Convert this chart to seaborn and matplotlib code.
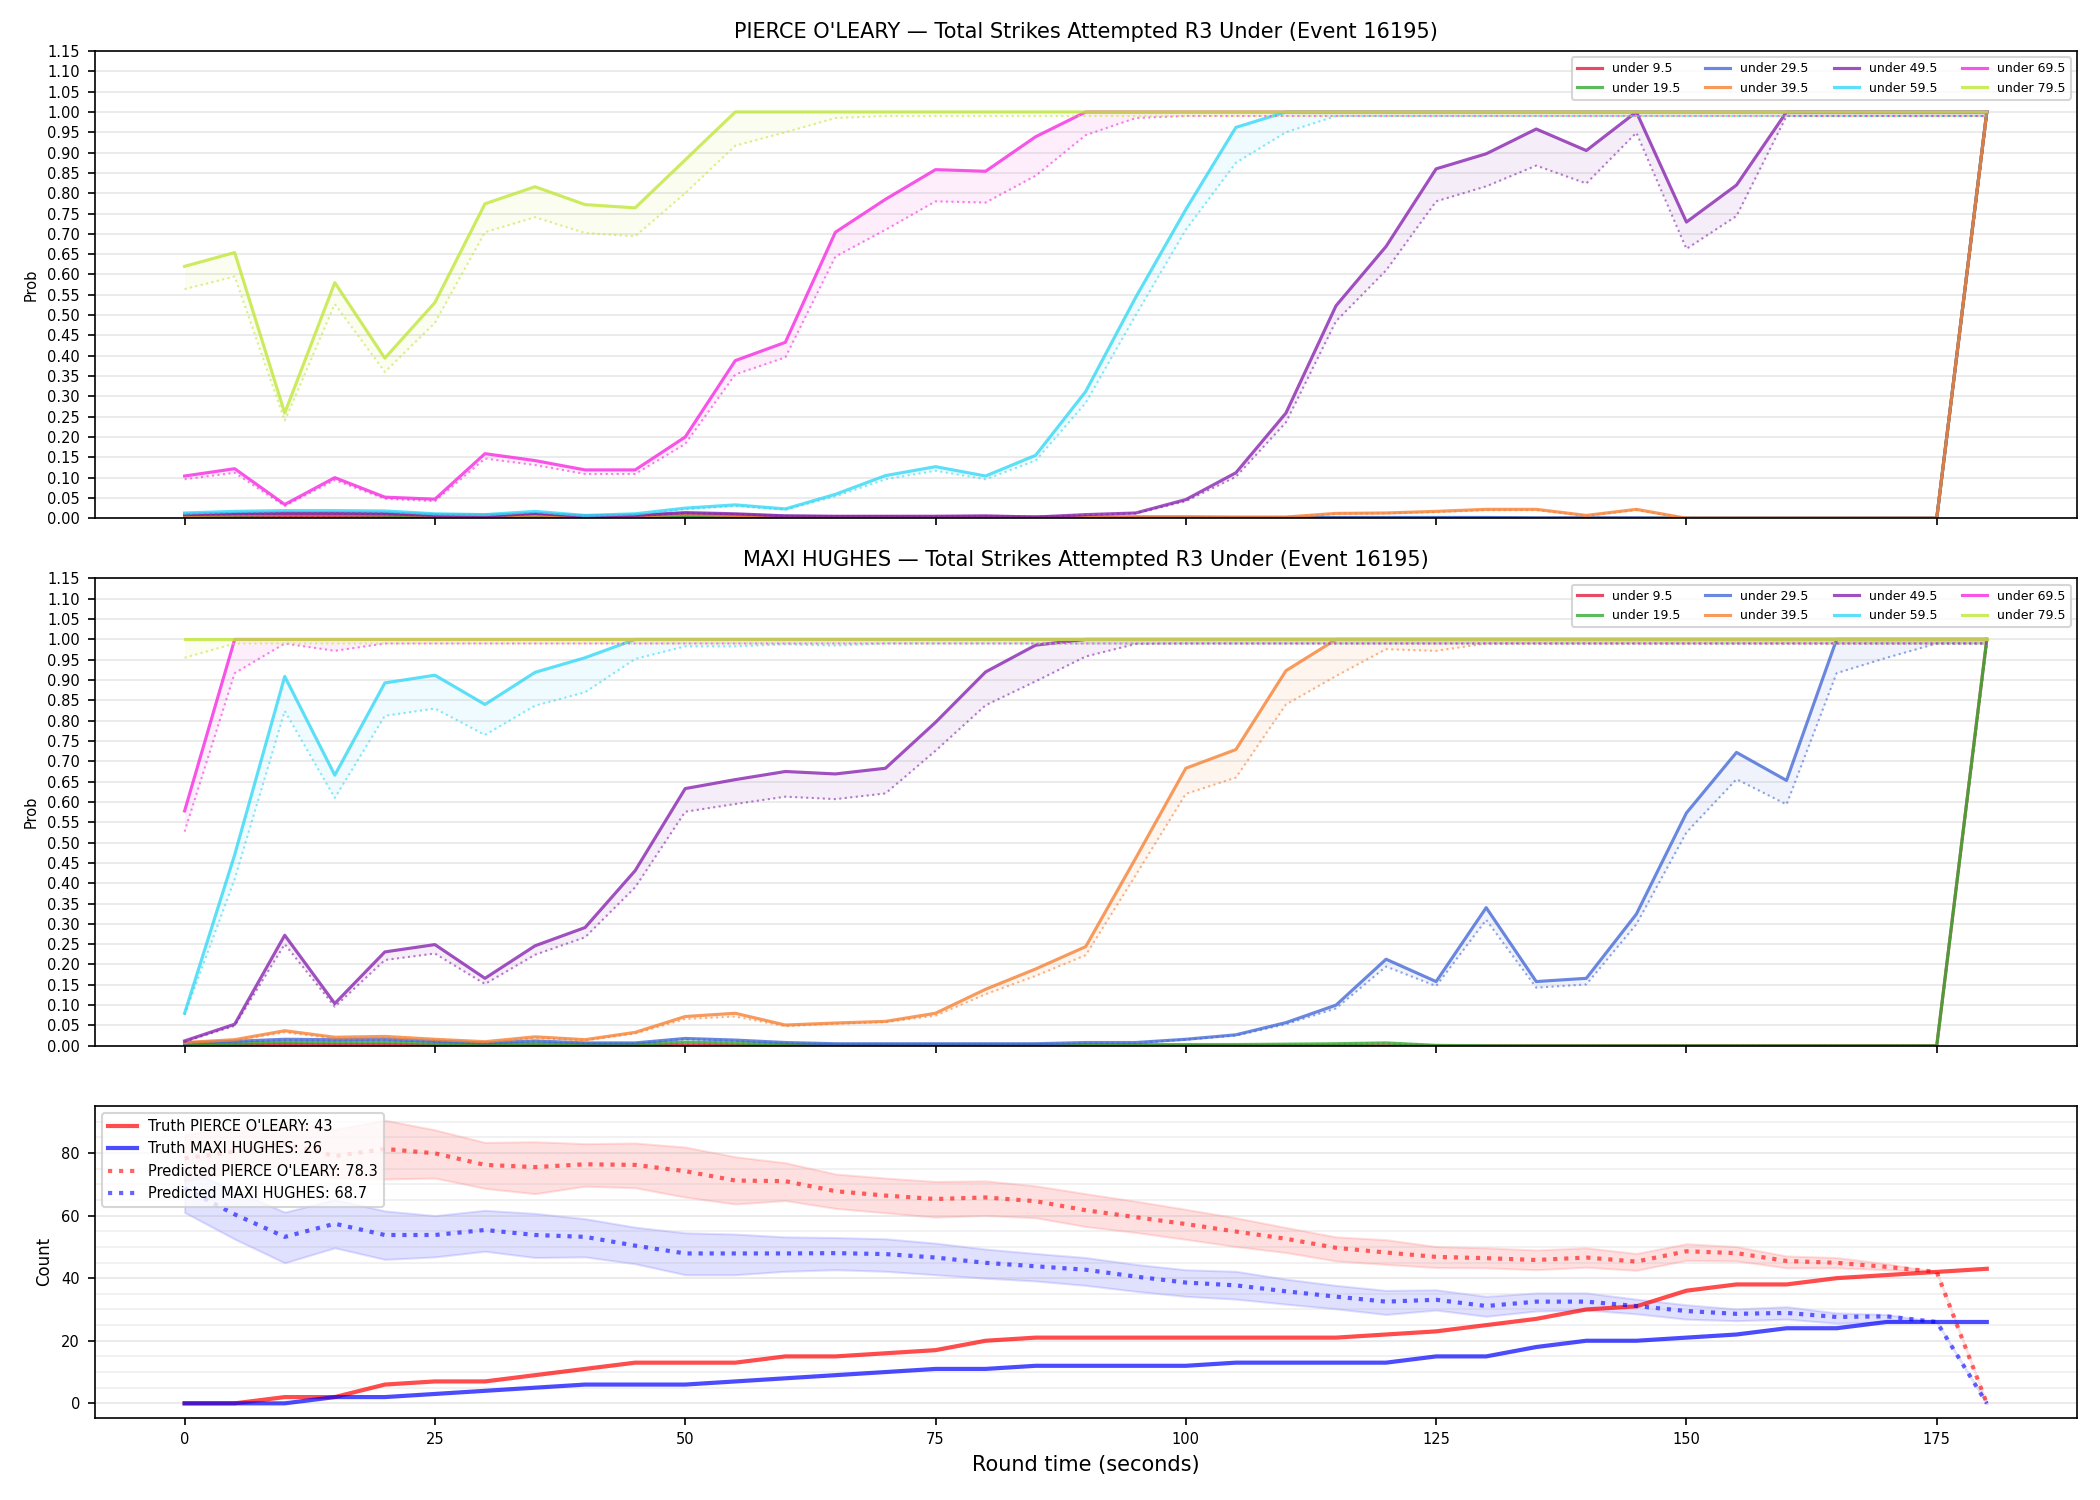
import matplotlib
matplotlib.use('Agg')
import matplotlib.pyplot as plt
from matplotlib.ticker import MultipleLocator
import seaborn as sns
import numpy as np

# ------------------------------------------------------- #
#                          DATOS                          #
# ------------------------------------------------------- #
times = [0, 5, 10, 15, 20, 25, 30, 35, 40, 45, 50, 55, 60, 65, 70, 75, 80, 85,
         90, 95, 100, 105, 110, 115, 120, 125, 130, 135, 140, 145, 150, 155,
         160, 165, 170, 175, 180]

lines = ['under 9.5', 'under 19.5', 'under 29.5', 'under 39.5',
         'under 49.5', 'under 59.5', 'under 69.5', 'under 79.5']
colors = ['#e21d3d', '#33ac33', '#456ad8', '#f78133',
          '#8824b0', '#33d8f6', '#f62ae2', '#c0e738']

fighter_a = "PIERCE O'LEARY"
fighter_b = "MAXI HUGHES"
title_tpl = "{} — Total Strikes Attempted R3 Under (Event 16195)"

#             PIERCE O'LEARY: prob real (truth)           #
pierce_truth = [
    [0.004, 0.005, 0.006, 0.006, 0.005, 0.004, 0.003, 0.004, 0.003, 0.003, 0.004, 0.003, 0.002,
     0.002, 0.002, 0.001, 0.001, 0.001, 0.001, 0.001, 0.001] + [0.0] * 15 + [1.0],
    [0.006, 0.008, 0.009, 0.009, 0.008, 0.006, 0.005, 0.006, 0.004, 0.005, 0.006, 0.005, 0.003,
     0.002, 0.002, 0.002, 0.002, 0.001, 0.001, 0.001, 0.001, 0.001, 0.001, 0.001, 0.001, 0.001,
     0.001] + [0.0] * 9 + [1.0],
    [0.010, 0.012, 0.014, 0.014, 0.013, 0.009, 0.008, 0.011, 0.006, 0.008, 0.011, 0.009, 0.005,
     0.004, 0.004, 0.003, 0.003, 0.003, 0.003, 0.003, 0.003, 0.002, 0.002, 0.002, 0.002, 0.002,
     0.002, 0.001, 0.001, 0.001] + [0.0] * 6 + [1.0],
    [0.007, 0.009, 0.011, 0.011, 0.010, 0.007, 0.006, 0.008, 0.005, 0.006, 0.010, 0.007, 0.004,
     0.003, 0.003, 0.003, 0.003, 0.003, 0.003, 0.003, 0.003, 0.003, 0.003, 0.012, 0.013, 0.017,
     0.022, 0.022, 0.007, 0.022] + [0.0] * 6 + [1.0],
    [0.009, 0.011, 0.012, 0.012, 0.011, 0.007, 0.005, 0.012, 0.005, 0.007, 0.014, 0.011, 0.006,
     0.005, 0.005, 0.005, 0.006, 0.003, 0.009, 0.013, 0.046, 0.112, 0.259, 0.523, 0.669, 0.860,
     0.897, 0.958, 0.905, 1.0, 0.729, 0.820] + [1.0] * 5,
    [0.013, 0.017, 0.019, 0.019, 0.018, 0.011, 0.009, 0.017, 0.007, 0.011, 0.025, 0.033, 0.023,
     0.059, 0.105, 0.127, 0.104, 0.155, 0.312, 0.544, 0.760, 0.962] + [1.0] * 15,
    [0.104, 0.122, 0.034, 0.100, 0.052, 0.047, 0.159, 0.142, 0.119, 0.119, 0.200, 0.388, 0.433,
     0.704, 0.785, 0.858, 0.854, 0.939] + [1.0] * 19,
    [0.620, 0.654, 0.259, 0.580, 0.394, 0.531, 0.774, 0.816, 0.772, 0.764, 0.882] + [1.0] * 26,
]

#            PIERCE O'LEARY: prob predicha               #
pierce_pred = [
    [0.003, 0.004, 0.005, 0.005, 0.004, 0.003, 0.002, 0.003, 0.002, 0.002, 0.003, 0.002, 0.001,
     0.001, 0.001, 0.001, 0.001, 0.001, 0.001, 0.001, 0.001] + [0.0] * 15 + [0.99],
    [0.005, 0.007, 0.008, 0.008, 0.007, 0.005, 0.004, 0.005, 0.003, 0.004, 0.005, 0.004, 0.002,
     0.002, 0.002, 0.002, 0.002, 0.001, 0.001, 0.001, 0.001, 0.001, 0.001, 0.001, 0.001, 0.001,
     0.001] + [0.0] * 9 + [0.99],
    [0.009, 0.011, 0.012, 0.012, 0.011, 0.008, 0.007, 0.010, 0.005, 0.007, 0.010, 0.008, 0.004,
     0.003, 0.003, 0.003, 0.003, 0.003, 0.003, 0.003, 0.003, 0.002, 0.002, 0.002, 0.002, 0.002,
     0.002, 0.001, 0.001, 0.001] + [0.0] * 6 + [0.99],
    [0.006, 0.008, 0.010, 0.010, 0.009, 0.006, 0.005, 0.007, 0.004, 0.005, 0.009, 0.006, 0.003,
     0.003, 0.003, 0.003, 0.003, 0.003, 0.003, 0.003, 0.003, 0.003, 0.003, 0.011, 0.012, 0.015,
     0.020, 0.020, 0.006, 0.020] + [0.0] * 6 + [0.99],
    [0.008, 0.010, 0.011, 0.011, 0.010, 0.006, 0.004, 0.011, 0.004, 0.006, 0.012, 0.010, 0.005,
     0.004, 0.004, 0.004, 0.005, 0.003, 0.008, 0.012, 0.042, 0.102, 0.236, 0.485, 0.610, 0.780,
     0.817, 0.868, 0.824, 0.949, 0.663, 0.744] + [0.99] * 5,
    [0.011, 0.015, 0.017, 0.017, 0.016, 0.010, 0.008, 0.015, 0.006, 0.010, 0.022, 0.030, 0.021,
     0.054, 0.096, 0.117, 0.096, 0.142, 0.284, 0.500, 0.710, 0.875, 0.950] + [0.99] * 14,
    [0.096, 0.112, 0.030, 0.094, 0.048, 0.042, 0.147, 0.131, 0.109, 0.109, 0.183, 0.354, 0.396,
     0.644, 0.710, 0.780, 0.777, 0.843, 0.943, 0.985] + [0.99] * 17,
    [0.564, 0.595, 0.240, 0.527, 0.360, 0.481, 0.704, 0.741, 0.702, 0.694, 0.800, 0.917, 0.950,
     0.985] + [0.99] * 23,
]

#              MAXI HUGHES: prob real (truth)             #
maxi_truth = [
    [0.002, 0.003, 0.004, 0.003, 0.003, 0.002, 0.002, 0.002, 0.001, 0.001, 0.002, 0.001,
     0.001] + [0.0] * 23 + [1.0],
    [0.004, 0.006, 0.009, 0.008, 0.009, 0.006, 0.004, 0.006, 0.004, 0.004, 0.009, 0.007, 0.004,
     0.003, 0.003, 0.003, 0.003, 0.003, 0.003, 0.003, 0.003, 0.003, 0.004, 0.005, 0.007,
     0.001] + [0.0] * 10 + [1.0],
    [0.007, 0.011, 0.016, 0.015, 0.016, 0.011, 0.007, 0.012, 0.007, 0.007, 0.018, 0.014, 0.008,
     0.005, 0.005, 0.005, 0.005, 0.005, 0.008, 0.008, 0.016, 0.027, 0.057, 0.100, 0.213, 0.158,
     0.340, 0.158, 0.166, 0.324, 0.573, 0.722, 0.653] + [1.0] * 4,
    [0.008, 0.015, 0.037, 0.021, 0.023, 0.016, 0.010, 0.022, 0.015, 0.033, 0.072, 0.080, 0.051,
     0.056, 0.060, 0.080, 0.139, 0.189, 0.244, 0.462, 0.683, 0.729, 0.923] + [1.0] * 14,
    [0.012, 0.053, 0.272, 0.104, 0.231, 0.249, 0.166, 0.246, 0.291, 0.431, 0.633, 0.655, 0.675,
     0.669, 0.683, 0.796, 0.920, 0.986] + [1.0] * 19,
    [0.080, 0.470, 0.909, 0.666, 0.893, 0.912, 0.840, 0.919, 0.955] + [1.0] * 28,
    [0.578] + [1.0] * 36,
    [1.0] * 37,
]

#              MAXI HUGHES: prob predicha                 #
maxi_pred = [
    [0.001, 0.002, 0.003, 0.002, 0.002, 0.001, 0.001, 0.001, 0.001, 0.001, 0.001, 0.001,
     0.001] + [0.0] * 23 + [0.99],
    [0.003, 0.005, 0.008, 0.007, 0.008, 0.005, 0.003, 0.005, 0.003, 0.003, 0.008, 0.006, 0.003,
     0.002, 0.002, 0.002, 0.002, 0.002, 0.002, 0.002, 0.002, 0.002, 0.003, 0.004, 0.006,
     0.001] + [0.0] * 10 + [0.99],
    [0.006, 0.010, 0.014, 0.013, 0.014, 0.010, 0.006, 0.011, 0.006, 0.006, 0.016, 0.012, 0.007,
     0.004, 0.004, 0.004, 0.004, 0.004, 0.007, 0.007, 0.015, 0.025, 0.053, 0.092, 0.195, 0.147,
     0.310, 0.143, 0.151, 0.299, 0.525, 0.656, 0.594, 0.917, 0.955, 0.99, 0.99],
    [0.006, 0.013, 0.033, 0.018, 0.020, 0.014, 0.008, 0.019, 0.013, 0.030, 0.066, 0.072, 0.048,
     0.054, 0.058, 0.074, 0.127, 0.172, 0.223, 0.420, 0.620, 0.660, 0.840, 0.910, 0.976,
     0.972] + [0.99] * 11,
    [0.010, 0.049, 0.250, 0.096, 0.211, 0.227, 0.152, 0.224, 0.267, 0.390, 0.576, 0.595, 0.613,
     0.607, 0.621, 0.726, 0.838, 0.897, 0.958, 0.989] + [0.99] * 17,
    [0.076, 0.410, 0.824, 0.610, 0.812, 0.830, 0.765, 0.837, 0.870, 0.952, 0.983, 0.983, 0.988,
     0.985] + [0.99] * 23,
    [0.527, 0.917, 0.990, 0.972] + [0.99] * 33,
    [0.955] + [0.99] * 36,
]

#                 Conteos acumulados                      #
truth_a = [0, 0, 2, 2, 6, 7, 7, 9, 11, 13, 13, 13, 15, 15, 16, 17, 20, 21, 21, 21, 21, 21, 21,
           21, 22, 23, 25, 27, 30, 31, 36, 38, 38, 40, 41, 42, 43]
truth_b = [0, 0, 0, 2, 2, 3, 4, 5, 6, 6, 6, 7, 8, 9, 10, 11, 11, 12, 12, 12, 12, 13, 13, 13,
           13, 15, 15, 18, 20, 20, 21, 22, 24, 24, 26, 26, 26]
pred_a = [78.3, 80.5, 83.0, 79.0, 81.3, 79.9, 76.2, 75.5, 76.4, 76.2, 74.2, 71.2, 71.0, 67.8,
          66.4, 65.3, 65.8, 64.6, 61.7, 59.5, 57.3, 54.9, 52.6, 49.7, 48.2, 46.8, 46.4, 45.8,
          46.6, 45.3, 48.6, 48.0, 45.5, 44.9, 43.6, 42.0, 0.0]
pred_a_lo = [71.0, 74.0, 76.0, 72.0, 71.7, 72.0, 68.7, 67.0, 69.4, 68.9, 65.9, 63.7, 64.8, 62.3,
             60.9, 59.5, 60.0, 59.3, 56.5, 54.6, 52.4, 50.1, 48.2, 45.5, 44.4, 43.4, 43.3, 42.7,
             43.5, 42.5, 45.7, 45.5, 43.3, 43.3, 42.7, 42.0, 0.0]
pred_a_hi = [86.0, 88.0, 90.0, 87.6, 90.5, 87.4, 83.4, 83.6, 83.0, 83.2, 81.9, 78.8, 76.9, 73.3,
             72.0, 70.9, 71.1, 69.5, 67.0, 64.6, 62.0, 59.3, 56.2, 53.2, 52.3, 50.1, 49.7, 49.0,
             49.7, 47.9, 51.0, 50.1, 47.1, 46.6, 44.6, 42.0, 0.0]
pred_b = [68.7, 60.4, 53.2, 57.4, 53.8, 53.8, 55.4, 53.8, 53.2, 50.4, 47.9, 47.9, 47.9, 48.0,
          47.7, 46.6, 44.9, 43.8, 42.7, 40.5, 38.6, 37.7, 35.8, 34.1, 32.5, 33.1, 31.1, 32.5,
          32.5, 31.1, 29.5, 28.6, 28.9, 27.6, 27.8, 26.0, 0.0]
pred_b_lo = [61.0, 52.5, 44.9, 49.7, 46.0, 46.8, 48.6, 46.6, 46.8, 44.6, 41.1, 41.1, 42.2, 42.7,
             42.2, 41.1, 40.0, 39.1, 37.7, 35.8, 34.2, 33.3, 31.7, 30.2, 28.4, 29.8, 27.8, 29.5,
             29.8, 28.6, 26.9, 26.4, 26.9, 25.6, 26.0, 26.0, 0.0]
pred_b_hi = [75.0, 68.0, 61.1, 65.1, 61.5, 60.0, 61.7, 60.7, 59.0, 56.3, 54.5, 54.1, 53.2, 53.0,
             52.6, 51.2, 49.3, 47.9, 46.6, 44.4, 42.7, 42.2, 39.7, 37.7, 36.1, 36.3, 34.2, 35.3,
             35.3, 33.3, 31.5, 30.2, 30.9, 28.9, 28.4, 26.0, 0.0]

# ------------------------------------------------------- #
#                         GRAFICO                         #
# ------------------------------------------------------- #
fig, axes = plt.subplots(3, 1, figsize=(14, 10), dpi=150, sharex=True,
                         gridspec_kw={'height_ratios': [3, 3, 2]})
fig.subplots_adjust(left=0.045, right=0.989, top=0.966, bottom=0.055, hspace=0.145)

x = np.array(times)

for ax, name, truth, pred in [(axes[0], fighter_a, pierce_truth, pierce_pred),
                              (axes[1], fighter_b, maxi_truth, maxi_pred)]:
    for lab, col, t, p in zip(lines, colors, truth, pred):
        sns.lineplot(x=x, y=t, ax=ax, color=col, lw=1.5, alpha=0.8, label=lab)
        sns.lineplot(x=x, y=p, ax=ax, color=col, lw=1.0, alpha=0.6, linestyle=':')
        ax.fill_between(x, t, p, color=col, alpha=0.08, lw=0)
    ax.set_ylim(0, 1.15)
    ax.set_yticks(np.arange(0, 1.151, 0.05))
    ax.tick_params(axis='y', labelsize=7)
    ax.grid(axis='y', alpha=0.3)
    ax.set_ylabel('Prob', fontsize=7)
    ax.set_title(title_tpl.format(name), fontsize=10)
    ax.legend(loc='upper right', ncol=4, fontsize=6)

ax = axes[2]
sns.lineplot(x=x, y=truth_a, ax=ax, color='red', lw=2, alpha=0.7,
             label=f'Truth {fighter_a}: {truth_a[-1]}')
sns.lineplot(x=x, y=truth_b, ax=ax, color='blue', lw=2, alpha=0.7,
             label=f'Truth {fighter_b}: {truth_b[-1]}')
sns.lineplot(x=x, y=pred_a, ax=ax, color='red', lw=2, alpha=0.6, linestyle=':',
             label=f'Predicted {fighter_a}: {pred_a[0]}')
sns.lineplot(x=x, y=pred_b, ax=ax, color='blue', lw=2, alpha=0.6, linestyle=':',
             label=f'Predicted {fighter_b}: {pred_b[0]}')
ax.fill_between(x, pred_a_lo, pred_a_hi, color='red', alpha=0.12)
ax.fill_between(x, pred_b_lo, pred_b_hi, color='blue', alpha=0.12)
ax.yaxis.set_minor_locator(MultipleLocator(5))
ax.tick_params(axis='y', which='minor', length=0)
ax.tick_params(labelsize=7)
ax.grid(axis='y', which='major', alpha=0.3)
ax.grid(axis='y', which='minor', alpha=0.2)
ax.set_xticks([0, 25, 50, 75, 100, 125, 150, 175])
ax.set_ylabel('Count', fontsize=8)
ax.set_xlabel('Round time (seconds)', fontsize=10)
ax.legend(loc='upper left', fontsize=7)

plt.savefig('out.png')
